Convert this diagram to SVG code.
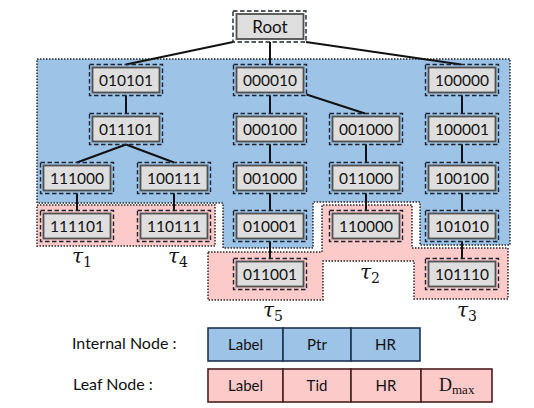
<svg xmlns="http://www.w3.org/2000/svg" width="534" height="408" viewBox="0 0 534 408">
<style>
.region{stroke:#2a2a2a;stroke-width:1.5;stroke-dasharray:1.5 1.5}
.blue{fill:#9dc3e6}
.pink{fill:#fdcaca}
.o{fill:none;stroke:#1c2433;stroke-width:1.4;stroke-dasharray:4.5 2.5}
.i{fill:#dedede;stroke:#505050;stroke-width:1.8}
.nt{font-family:Lato,"Open Sans",sans-serif;font-size:15.5px;fill:#111;text-anchor:middle}
.rt{font-size:17px}
.conn line{stroke:#111;stroke-width:2}
.tau{font-family:"DejaVu Serif",serif;font-size:20px;fill:#111}
.sub{font-size:14px;font-style:normal}
.lg{font-family:Lato,"Open Sans",sans-serif;font-size:16px;fill:#111}
.cell{stroke-width:1.6}
.ci{fill:#9dc3e6;stroke:#1f3350}
.cl{fill:#fdcaca;stroke:#4a2020}
.ct{font-family:Lato,"Open Sans",sans-serif;font-size:15px;fill:#111;text-anchor:middle}
</style>

<g id="regions">
<polygon id="internal-region" class="region blue" points="37,59 510,59 510,245 420,245 420,202 313,202 313,248 223,248 223,203 37,203"/>
<polygon id="leaf-region-t1-t4" class="region pink" points="37,205 215,205 215,246 37,246"/>
<polygon id="leaf-region-t5-t2-t3" class="region pink" points="208,252 322,252 322,205 412,205 412,248 508,248 508,299 414,299 414,261 323,261 323,300 208,300"/>
</g>

<g id="connectors" class="conn">
<line x1="233" y1="42" x2="126" y2="64.5"/>
<line x1="270" y1="42" x2="270" y2="64.5"/>
<line x1="306" y1="42" x2="461" y2="64.5"/>
<line x1="126" y1="95.5" x2="126" y2="113.5"/>
<line x1="126" y1="144.5" x2="77" y2="162.5"/>
<line x1="126" y1="144.5" x2="174" y2="162.5"/>
<line x1="77" y1="193.5" x2="77" y2="210.5"/>
<line x1="174" y1="193.5" x2="174" y2="210.5"/>
<line x1="270" y1="95.5" x2="270" y2="113.5"/>
<line x1="270" y1="144.5" x2="270" y2="162.5"/>
<line x1="270" y1="193.5" x2="270" y2="210.5"/>
<line x1="270" y1="241.5" x2="270" y2="258.5"/>
<line x1="306.5" y1="94.5" x2="365" y2="113.5"/>
<line x1="366" y1="144.5" x2="366" y2="162.5"/>
<line x1="366" y1="193.5" x2="366" y2="210.5"/>
<line x1="462" y1="95.5" x2="462" y2="113.5"/>
<line x1="462" y1="144.5" x2="462" y2="162.5"/>
<line x1="462" y1="193.5" x2="462" y2="210.5"/>
<line x1="462" y1="241.5" x2="462" y2="258.5"/>
</g>

<g id="n-root"><rect class="o" x="233" y="11" width="73" height="31"/><rect class="i" x="236.5" y="14" width="67" height="25"/><text class="nt rt" x="270" y="32.5">Root</text></g>

<g id="n-010101"><rect class="o" x="89.5" y="64.5" width="73" height="31"/><rect class="i" x="92.5" y="67.5" width="67" height="25"/><text class="nt" x="126" y="85.5">010101</text></g>
<g id="n-011101"><rect class="o" x="89.5" y="113.5" width="73" height="31"/><rect class="i" x="92.5" y="116.5" width="67" height="25"/><text class="nt" x="126" y="134.5">011101</text></g>
<g id="n-111000"><rect class="o" x="40.5" y="162.5" width="73" height="31"/><rect class="i" x="43.5" y="165.5" width="67" height="25"/><text class="nt" x="77" y="183.5">111000</text></g>
<g id="n-100111"><rect class="o" x="137.5" y="162.5" width="73" height="31"/><rect class="i" x="140.5" y="165.5" width="67" height="25"/><text class="nt" x="174" y="183.5">100111</text></g>
<g id="n-111101"><rect class="o" x="40.5" y="210.5" width="73" height="31"/><rect class="i" x="43.5" y="213.5" width="67" height="25"/><text class="nt" x="77" y="231.5">111101</text></g>
<g id="n-110111"><rect class="o" x="137.5" y="210.5" width="73" height="31"/><rect class="i" x="140.5" y="213.5" width="67" height="25"/><text class="nt" x="174" y="231.5">110111</text></g>

<g id="n-000010"><rect class="o" x="233.5" y="64.5" width="73" height="31"/><rect class="i" x="236.5" y="67.5" width="67" height="25"/><text class="nt" x="270" y="85.5">000010</text></g>
<g id="n-000100"><rect class="o" x="233.5" y="113.5" width="73" height="31"/><rect class="i" x="236.5" y="116.5" width="67" height="25"/><text class="nt" x="270" y="134.5">000100</text></g>
<g id="n-001000-a"><rect class="o" x="233.5" y="162.5" width="73" height="31"/><rect class="i" x="236.5" y="165.5" width="67" height="25"/><text class="nt" x="270" y="183.5">001000</text></g>
<g id="n-010001"><rect class="o" x="233.5" y="210.5" width="73" height="31"/><rect class="i" x="236.5" y="213.5" width="67" height="25"/><text class="nt" x="270" y="231.5">010001</text></g>
<g id="n-011001"><rect class="o" x="233.5" y="258.5" width="73" height="31"/><rect class="i" x="236.5" y="261.5" width="67" height="25"/><text class="nt" x="270" y="279.5">011001</text></g>

<g id="n-001000-b"><rect class="o" x="329.5" y="113.5" width="73" height="31"/><rect class="i" x="332.5" y="116.5" width="67" height="25"/><text class="nt" x="366" y="134.5">001000</text></g>
<g id="n-011000"><rect class="o" x="329.5" y="162.5" width="73" height="31"/><rect class="i" x="332.5" y="165.5" width="67" height="25"/><text class="nt" x="366" y="183.5">011000</text></g>
<g id="n-110000"><rect class="o" x="329.5" y="210.5" width="73" height="31"/><rect class="i" x="332.5" y="213.5" width="67" height="25"/><text class="nt" x="366" y="231.5">110000</text></g>

<g id="n-100000"><rect class="o" x="425.5" y="64.5" width="73" height="31"/><rect class="i" x="428.5" y="67.5" width="67" height="25"/><text class="nt" x="462" y="85.5">100000</text></g>
<g id="n-100001"><rect class="o" x="425.5" y="113.5" width="73" height="31"/><rect class="i" x="428.5" y="116.5" width="67" height="25"/><text class="nt" x="462" y="134.5">100001</text></g>
<g id="n-100100"><rect class="o" x="425.5" y="162.5" width="73" height="31"/><rect class="i" x="428.5" y="165.5" width="67" height="25"/><text class="nt" x="462" y="183.5">100100</text></g>
<g id="n-101010"><rect class="o" x="425.5" y="210.5" width="73" height="31"/><rect class="i" x="428.5" y="213.5" width="67" height="25"/><text class="nt" x="462" y="231.5">101010</text></g>
<g id="n-101110"><rect class="o" x="425.5" y="258.5" width="73" height="31"/><rect class="i" x="428.5" y="261.5" width="67" height="25"/><text class="nt" x="462" y="279.5">101110</text></g>

<g id="tau-labels">
<text class="tau" x="72" y="263"><tspan font-style="italic">τ</tspan><tspan class="sub" dy="4">1</tspan></text>
<text class="tau" x="168" y="263"><tspan font-style="italic">τ</tspan><tspan class="sub" dy="4">4</tspan></text>
<text class="tau" x="360" y="279"><tspan font-style="italic">τ</tspan><tspan class="sub" dy="4">2</tspan></text>
<text class="tau" x="263" y="317"><tspan font-style="italic">τ</tspan><tspan class="sub" dy="4">5</tspan></text>
<text class="tau" x="457" y="317"><tspan font-style="italic">τ</tspan><tspan class="sub" dy="4">3</tspan></text>
</g>

<g id="legend-internal">
<text class="lg" x="72" y="349">Internal Node :</text>
<rect class="cell ci" x="208" y="328" width="75" height="33"/>
<rect class="cell ci" x="283" y="328" width="68" height="33"/>
<rect class="cell ci" x="351" y="328" width="69" height="33"/>
<text class="ct" x="245.5" y="350">Label</text>
<text class="ct" x="317" y="350">Ptr</text>
<text class="ct" x="385.5" y="350">HR</text>
</g>

<g id="legend-leaf">
<text class="lg" x="73" y="390">Leaf Node :</text>
<rect class="cell cl" x="208" y="369" width="75" height="33"/>
<rect class="cell cl" x="283" y="369" width="68" height="33"/>
<rect class="cell cl" x="351" y="369" width="70" height="33"/>
<rect class="cell cl" x="421" y="369" width="71" height="33"/>
<text class="ct" x="245.5" y="391">Label</text>
<text class="ct" x="317" y="391">Tid</text>
<text class="ct" x="386" y="391">HR</text>
<text font-family="Liberation Serif,serif" font-size="18" fill="#111" x="439" y="391">D<tspan font-size="13" dy="3">max</tspan></text>
</g>
</svg>
